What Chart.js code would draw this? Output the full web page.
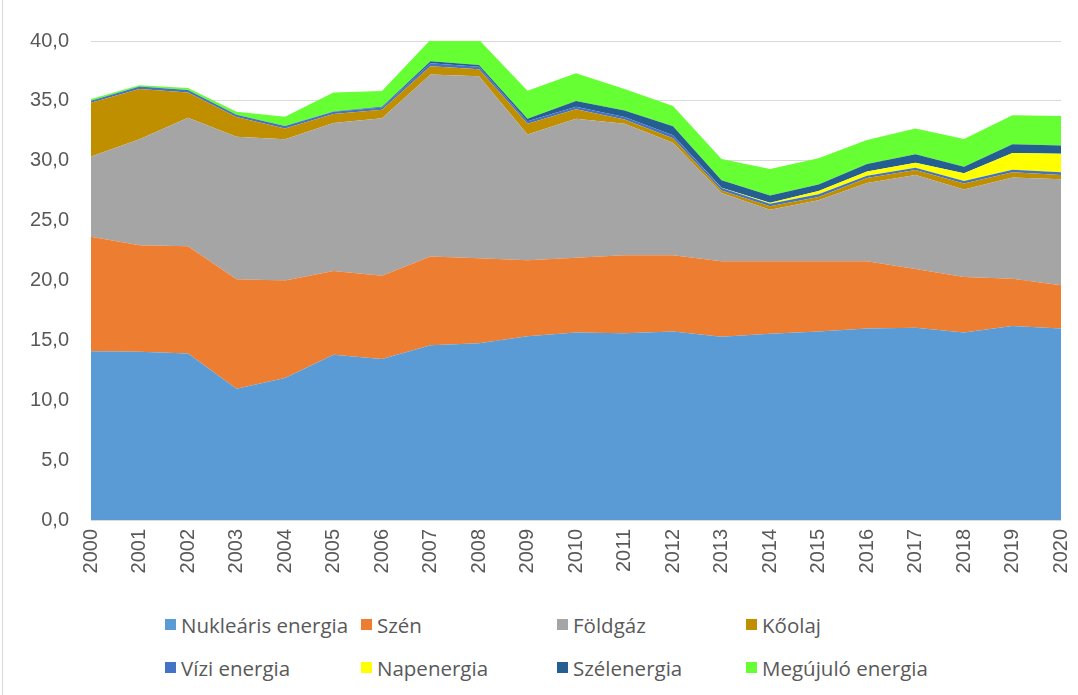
<!DOCTYPE html>
<html>
<head>
<meta charset="utf-8">
<script src="https://cdn.jsdelivr.net/npm/chart.js@4"></script>
<style>
    body { margin: 0; background: #fff; }
    #wrap { position: relative; width: 1078px; height: 695px; }
    #wrap::before { content: ""; position: absolute; left: 2px; top: 0; width: 1px; height: 695px; background: #D9D9D9; }
    #myChart { position: absolute; left: 0; top: 0; }
    #legenda { position: absolute; left: 165px; top: 603px; display: grid; grid-template-columns: 196px 196px 189px 230px; grid-auto-rows: 43px; }
    .voce { display: flex; align-items: center; font-family: "Open Sans", sans-serif; font-size: 20.5px; color: #595959; white-space: nowrap; }
    .quadrato { width: 11px; height: 11px; margin-right: 5px; flex: none; }
</style>
</head>
<body>
<div id="wrap">
    <canvas id="myChart" width="1078" height="600"></canvas>
    <div id="legenda"></div>
</div>
<script>
const ctx = document.getElementById('myChart');

const evek = ['2000', '2001', '2002', '2003', '2004', '2005', '2006', '2007', '2008', '2009', '2010',
    '2011', '2012', '2013', '2014', '2015', '2016', '2017', '2018', '2019', '2020'];

const nuklearis = [14.1, 14.05, 13.9, 10.95, 11.85, 13.8, 13.45, 14.6, 14.75, 15.35, 15.65, 15.6, 15.75, 15.3, 15.55, 15.75, 16.0, 16.05, 15.65, 16.2, 16.0];
const szen = [9.55, 8.9, 8.95, 9.15, 8.15, 7.0, 6.95, 7.4, 7.1, 6.35, 6.25, 6.5, 6.35, 6.3, 6.05, 5.85, 5.6, 4.9, 4.65, 3.95, 3.6];
const foldgaz = [6.7, 8.85, 10.75, 11.9, 11.8, 12.35, 13.15, 15.2, 15.2, 10.5, 11.6, 11.0, 9.4, 5.7, 4.3, 5.1, 6.55, 7.85, 7.3, 8.45, 8.85];
const koolaj = [4.5, 4.2, 2.1, 1.65, 0.9, 0.75, 0.7, 0.7, 0.6, 0.9, 0.8, 0.35, 0.37, 0.22, 0.3, 0.28, 0.4, 0.42, 0.5, 0.45, 0.35];
const vizi = [0.17, 0.2, 0.2, 0.2, 0.2, 0.2, 0.2, 0.25, 0.2, 0.2, 0.2, 0.2, 0.25, 0.2, 0.2, 0.22, 0.2, 0.19, 0.2, 0.2, 0.25];
const nap = [0, 0, 0, 0, 0, 0, 0, 0, 0, 0, 0, 0, 0.01, 0.02, 0.1, 0.28, 0.36, 0.42, 0.65, 1.4, 1.53];
const szel = [0, 0, 0, 0, 0.01, 0.02, 0.05, 0.15, 0.15, 0.2, 0.5, 0.55, 0.75, 0.64, 0.6, 0.53, 0.61, 0.72, 0.55, 0.73, 0.7];
const megujulo = [0.14, 0.1, 0.17, 0.25, 0.77, 1.58, 1.32, 1.8, 2.1, 2.35, 2.3, 1.8, 1.69, 1.77, 2.21, 2.19, 2.01, 2.15, 2.32, 2.41, 2.46];

const yTicks = [0, 5, 10, 15, 20, 25, 30, 35, 40];

const nevek = ['Nukleáris energia', 'Szén', 'Földgáz', 'Kőolaj', 'Vízi energia', 'Napenergia', 'Szélenergia', 'Megújuló energia'];
const sorok = [nuklearis, szen, foldgaz, koolaj, vizi, nap, szel, megujulo];
const szinek = ['#5B9BD5', '#ED7D31', '#A5A5A5', '#BF8F00', '#4472C4', '#FFFF00', '#255E91', '#66FF33'];

let datasets = new Array();
for (let i = 0; i < sorok.length; i++) {
    datasets.push({
        label: nevek[i],
        data: sorok[i],
        backgroundColor: szinek[i],
        borderColor: szinek[i],
        borderWidth: 0,
        pointRadius: 0,
        tension: 0,
        fill: i == 0 ? 'origin' : '-1'
    });
}

var myChart = new Chart(ctx, {
    type: 'line',
    data: {
        labels: evek,
        datasets: datasets
    },
    options: {
        responsive: false,
        animation: false,
        layout: {
            padding: { left: 0, right: 17, top: 41, bottom: 0 }
        },
        plugins: {
            legend: { display: false },
            tooltip: { enabled: false }
        },
        scales: {
            x: {
                offset: false,
                grid: { display: false, drawTicks: false },
                border: { display: false },
                ticks: {
                    color: '#595959',
                    font: { family: 'Liberation Sans', size: 20 },
                    minRotation: 90,
                    maxRotation: 90,
                    autoSkip: false,
                    padding: 9
                },
                afterFit: function (scale) {
                    scale.height = 80;
                    scale.paddingLeft = 0;
                    scale.paddingRight = 0;
                }
            },
            y: {
                stacked: true,
                min: 0,
                max: 40,
                afterBuildTicks: function (scale) {
                    scale.ticks = yTicks.map(v => ({ value: v }));
                },
                grid: { color: '#D9D9D9', lineWidth: 1, drawTicks: false },
                border: { display: false },
                ticks: {
                    color: '#595959',
                    font: { family: 'Liberation Sans', size: 20 },
                    padding: 22,
                    callback: function (value) { return value.toFixed(1).replace('.', ','); }
                },
                afterFit: function (scale) { scale.width = 91; }
            }
        }
    }
});

// legend in Excel-like grid
const legenda = document.getElementById('legenda');
for (let i = 0; i < nevek.length; i++) {
    let voce = document.createElement('div');
    voce.className = 'voce';
    voce.innerHTML = '<span class="quadrato" style="background:' + szinek[i] + '"></span>' + nevek[i];
    legenda.appendChild(voce);
}
</script>
</body>
</html>
